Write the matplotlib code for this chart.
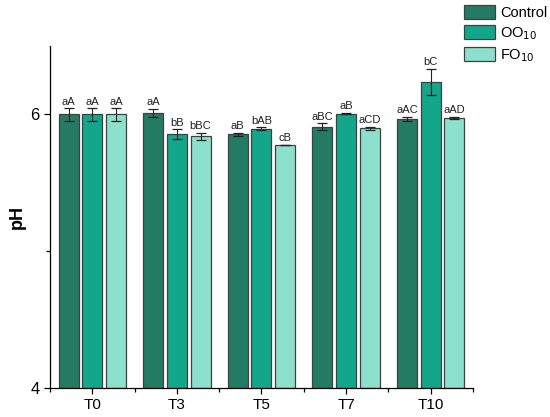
import matplotlib.pyplot as plt
import numpy as np

days = ["T0", "T3", "T5", "T7", "T10"]
series = ["Control", "OO$_{10}$", "FO$_{10}$"]
control = [6.00, 6.01, 5.855, 5.91, 5.968]
oo10 = [6.00, 5.856, 5.897, 6.005, 6.237]
fo10 = [6.00, 5.84, 5.778, 5.90, 5.975]
control_err = [0.045, 0.03, 0.01, 0.025, 0.015]
oo10_err = [0.045, 0.035, 0.01, 0.005, 0.097]
fo10_err = [0.045, 0.025, 0.0, 0.01, 0.01]
control_lbl = ["aA", "aA", "aB", "aBC", "aAC"]
oo10_lbl = ["aA", "bB", "bAB", "aB", "bC"]
fo10_lbl = ["aA", "bBC", "cB", "aCD", "aAD"]

colors = ["#237b64", "#12a68a", "#8de0cb"]

plt.rcParams['font.family'] = ['Liberation Sans', 'DejaVu Sans']

fig = plt.figure(figsize=(5.5, 4.17), dpi=100)
ax = fig.add_axes([0.0909, 0.0695, 0.769, 0.820])

x = np.arange(len(days))
offsets = [-0.28, 0.0, 0.28]
vals = [control, oo10, fo10]
errs = [control_err, oo10_err, fo10_err]
lbls = [control_lbl, oo10_lbl, fo10_lbl]

handles = []
for i in range(3):
    b = ax.bar(x + offsets[i], np.array(vals[i]) - 4, bottom=4, width=0.237,
               color=colors[i], edgecolor="#404040", linewidth=0.9, label=series[i], zorder=2)
    handles.append(b)
    ax.errorbar(x + offsets[i], vals[i], yerr=errs[i], fmt="none", ecolor="#222222",
                elinewidth=0.8, capsize=3.5, capthick=0.9, zorder=3)
    for j in range(len(days)):
        ax.text(x[j] + offsets[i], vals[i][j] + errs[i][j] + 0.012, lbls[i][j],
                ha="center", va="bottom", fontsize=8, color="#222222")

ax.set_xlim(-0.5, 4.5)
ax.set_ylim(4, 6.5)
ax.set_yticks([4, 6])
ax.set_yticks([5], minor=True)
ax.set_xticks(x)
ax.set_xticks(np.arange(-0.5, 5, 1), minor=True)
ax.set_xticklabels(days, fontsize=11)
ax.tick_params(axis="y", labelsize=12)
ax.tick_params(which="major", direction="out", length=4, width=0.9)
ax.tick_params(which="minor", direction="out", length=3, width=0.9)
ax.spines["top"].set_visible(False)
ax.spines["right"].set_visible(False)
ax.spines["left"].set_linewidth(0.9)
ax.spines["bottom"].set_linewidth(0.9)
ax.set_ylabel("pH", fontsize=13, fontweight="bold")
ax.yaxis.set_label_coords(-0.058, 0.5)

fig.legend(handles=handles, loc="upper left", bbox_to_anchor=(0.835, 1.0),
           fontsize=10.5, frameon=False, handlelength=2.1, handleheight=1.1,
           handletextpad=0.35, labelspacing=0.35, borderaxespad=0.15, borderpad=0.2)

fig.savefig("out.png", dpi=100)
